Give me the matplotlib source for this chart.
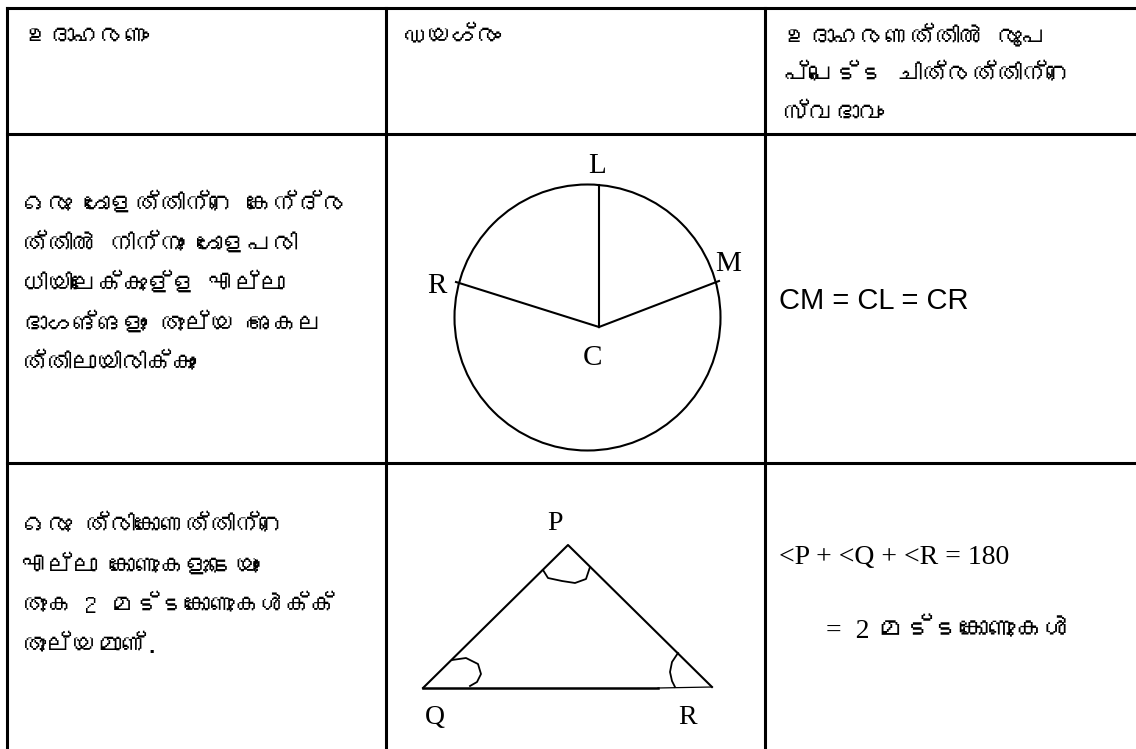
import matplotlib
matplotlib.use("Agg")
import matplotlib.pyplot as plt
from matplotlib.patches import Circle
from matplotlib import font_manager
from matplotlib.ft2font import FT2Font

# table text
header = ["ഉദാഹരണം", "ഡയഗ്രം", ["ഉദാഹരണത്തിൽ രൂപ", "പ്പെട്ട ചിത്രത്തിന്റെ", "സ്വഭാവം"]]
row1_text = ["ഒരു ഗോളത്തിന്റെ കേന്ദ്ര", "ത്തിൽ നിന്നും ഗോളപരി",
             "ധിയിലേക്കുള്ള എല്ലാ", "ഭാഗങ്ങളും തുല്യ അകല", "ത്തിലായിരിക്കും"]
row2_text = ["ഒരു ത്രികോണത്തിന്റെ", "എല്ലാ കോണുകളുടെയും",
             "തുക 2 മട്ടകോണുകൾക്ക്", "തുല്യമാണ്."]
row1_result = "CM = CL = CR"
row2_result = ["<P + <Q + <R = 180", "=  2 മട്ടകോണുകൾ"]

# diagram 1: circle, centre C and points on the rim
circle_center = (587.5, 317.5)
circle_radius = 133
pt_C = (599, 327)
pt_L = (599, 185)
pt_M = (719, 281)
pt_R = (456, 282)
circle_labels = {"L": (597, 166), "M": (728, 264), "R": (437, 286), "C": (593, 358)}

# diagram 2: triangle
tri_P = (568, 545)
tri_Q = (423, 688)
tri_R = (712, 687)
base_thick_end = 658
tri_labels = {"P": (555, 523), "Q": (435, 718), "R": (688, 717)}
# hand drawn angle marks
mark_P = ([543, 548, 562, 575, 586, 590], [570, 578, 581, 583, 579, 567])
mark_Q = ([452, 466, 478, 481, 477, 470], [660, 658, 664, 674, 682, 686])
mark_R = ([678, 672, 670, 672, 675], [653, 662, 672, 681, 687])

# table grid
col_x = [7, 386, 765, 1140]
row_y = [8, 134, 463, 752]


def find_malayalam_font():
    for f in font_manager.fontManager.ttflist:
        try:
            if 0x0D15 in FT2Font(f.fname).get_charmap():
                return f.name
        except Exception:
            pass
    return None


ml_name = find_malayalam_font()
ml_family = [ml_name, "DejaVu Sans"] if ml_name else ["DejaVu Sans"]
serif_ml = ["Liberation Serif"] + ml_family
ML_SIZE = 18

fig = plt.figure(figsize=(11.36, 7.49), dpi=100)
ax = fig.add_axes([0, 0, 1, 1])
ax.set_xlim(0, 1136)
ax.set_ylim(749, 0)
ax.axis("off")

# grid lines
for x in col_x:
    ax.plot([x, x], [row_y[0], row_y[-1]], color="black", lw=2.2, solid_capstyle="projecting")
for y in row_y:
    ax.plot([col_x[0], col_x[-1]], [y, y], color="black", lw=2.2, solid_capstyle="projecting")

# header
ax.text(24, 36, header[0], family=ml_family, fontsize=ML_SIZE, va="center", ha="left")
ax.text(402, 36, header[1], family=ml_family, fontsize=ML_SIZE, va="center", ha="left")
for i, line in enumerate(header[2]):
    ax.text(784, 35 + i * 39, line, family=ml_family, fontsize=ML_SIZE, va="center", ha="left")

# left column
for i, line in enumerate(row1_text):
    ax.text(22, 203 + i * 40, line, family=ml_family, fontsize=ML_SIZE, va="center", ha="left")
for i, line in enumerate(row2_text):
    ax.text(22, 525 + i * 40, line, family=ml_family, fontsize=ML_SIZE, va="center", ha="left")

# circle diagram
ax.add_patch(Circle(circle_center, circle_radius, fill=False, ec="black", lw=1.5))
for p in (pt_L, pt_M, pt_R):
    ax.plot([pt_C[0], p[0]], [pt_C[1], p[1]], color="black", lw=1.5)
for name, (x, y) in circle_labels.items():
    ax.text(x, y, name, family="Liberation Serif", fontsize=21, ha="center", va="center")

# triangle diagram
ax.plot([tri_Q[0], tri_P[0], tri_R[0]], [tri_Q[1], tri_P[1], tri_R[1]], color="black", lw=1.5)
ax.plot([tri_Q[0], base_thick_end], [tri_Q[1], tri_Q[1]], color="black", lw=1.8)
ax.plot([base_thick_end, tri_R[0]], [tri_Q[1], tri_R[1]], color="black", lw=0.9)
for mx, my in (mark_P, mark_Q, mark_R):
    ax.plot(mx, my, color="black", lw=1.3)
for name, (x, y) in tri_labels.items():
    ax.text(x, y, name, family="Liberation Serif", fontsize=20, ha="center", va="center")

# right column
ax.text(779, 301, row1_result, family="Liberation Sans", fontsize=21, ha="left", va="center")
ax.text(779, 557, row2_result[0], family="Liberation Serif", fontsize=20, ha="left", va="center")
ax.text(826, 632, row2_result[1], family=serif_ml, fontsize=20, ha="left", va="center")

fig.savefig("out.png", dpi=100, facecolor="white")
